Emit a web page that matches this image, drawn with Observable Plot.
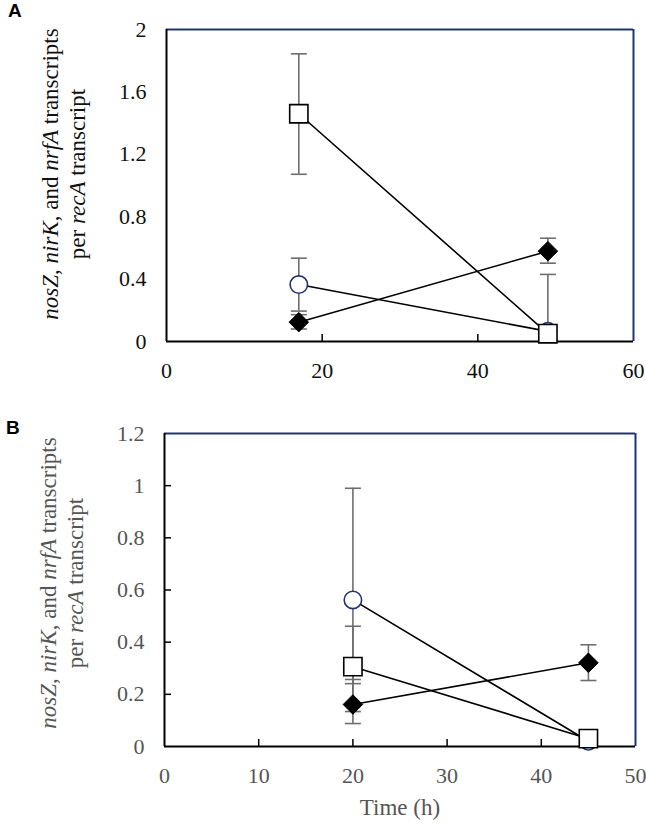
<!DOCTYPE html>
<html><head><meta charset="utf-8">
<script src="https://cdn.jsdelivr.net/npm/d3@7"></script>
<script src="https://cdn.jsdelivr.net/npm/@observablehq/plot@0.6"></script>
<style>
body{margin:0;background:#fff;}
#wrap{position:relative;width:646px;height:824px;font-family:"Liberation Serif","Times New Roman",serif;overflow:hidden;}
.panel{position:absolute;left:0;}
.ytitle{position:absolute;width:340px;text-align:center;font-size:23px;line-height:27px;transform:rotate(-90deg);white-space:nowrap;}
.tag{position:absolute;font-family:"Liberation Sans",Arial,sans-serif;font-weight:bold;font-size:19px;}
.xtitle{position:absolute;font-size:23px;white-space:nowrap;transform:translateX(-50%);}
</style></head>
<body>
<div id="wrap">
  <div class="tag" style="left:8px;top:0px;">A</div>
  <div class="tag" style="left:6px;top:417px;">B</div>
  <div class="ytitle" style="left:-106px;top:147px;color:#111;"><i>nosZ</i>, <i>nirK</i>, and <i>nrfA</i> transcripts<br>per <i>recA</i> transcript</div>
  <div class="ytitle" style="left:-108px;top:556px;color:#555;"><i>nosZ</i>, <i>nirK</i>, and <i>nrfA</i> transcripts<br>per <i>recA</i> transcript</div>
  <div class="xtitle" style="left:400px;top:795px;color:#555;">Time (h)</div>
  <div id="pA" class="panel" style="top:0px;"></div>
  <div id="pB" class="panel" style="top:380px;"></div>
</div>
<script>
// ---------- Panel A data ----------
const timeA = [17, 49];
const circleA = [0.365, 0.065];
const circleA_lo = [0.195, 0.065];
const circleA_hi = [0.534, 0.43];
const squareA = [1.46, 0.05];
const squareA_lo = [1.072, 0.05];
const squareA_hi = [1.844, 0.05];
const diamondA = [0.124, 0.579];
const diamondA_lo = [0.08, 0.502];
const diamondA_hi = [0.172, 0.662];
const xTicksA = [0, 20, 40, 60];
const xTickMarksA = [20, 40];
const yTicksA = [0, 0.4, 0.8, 1.2, 1.6, 2];

// ---------- Panel B data ----------
const timeB = [20, 45];
const circleB = [0.562, 0.02];
const circleB_lo = [0.134, 0.02];
const circleB_hi = [0.99, 0.02];
const squareB = [0.306, 0.03];
const squareB_lo = [0.241, 0.03];
const squareB_hi = [0.461, 0.03];
const diamondB = [0.161, 0.321];
const diamondB_lo = [0.088, 0.253];
const diamondB_hi = [0.257, 0.39];
const xTicksB = [0, 10, 20, 30, 40, 50];
const xTickMarksB = [10, 20, 30, 40];
const yTicksB = [0, 0.2, 0.4, 0.6, 0.8, 1, 1.2];

function rows(time, series) {
  const out = [];
  for (const [s, m, lo, hi] of series) {
    time.forEach((t, i) => out.push({t, v: m[i], lo: lo[i], hi: hi[i], s}));
  }
  return out;
}
const dataA = rows(timeA, [["circle", circleA, circleA_lo, circleA_hi], ["diamond", diamondA, diamondA_lo, diamondA_hi], ["square", squareA, squareA_lo, squareA_hi]]);
const dataB = rows(timeB, [["circle", circleB, circleB_lo, circleB_hi], ["diamond", diamondB, diamondB_lo, diamondB_hi], ["square", squareB, squareB_lo, squareB_hi]]);

const capSymbol = {draw(ctx) { ctx.moveTo(-8, 0); ctx.lineTo(8, 0); }};
const navy = "#1f3470";
const serif = "Liberation Serif";

function panel(o) {
  const innerH = o.height - o.mt - o.mb;
  const innerW = 646 - o.ml - o.mr;
  const d = o.data;
  const marks = [
    Plot.ruleY([o.ydom[1]], {stroke: navy, strokeWidth: 2}),
    Plot.ruleX([o.xdom[1]], {stroke: navy, strokeWidth: 2}),
    Plot.ruleX([o.xdom[0]], {stroke: "#000", strokeWidth: 2}),
    Plot.ruleY([o.ydom[0]], {stroke: "#000", strokeWidth: 2}),
    Plot.tickX(o.xTickMarks, {x: d => d, insetTop: innerH - 7, stroke: "#000", strokeWidth: 1.5}),
    o.yTickMarks ? Plot.tickY(o.yTickMarks, {y: d => d, insetRight: innerW - 7, stroke: "#000", strokeWidth: 1.5}) : null,
    Plot.axisX({ticks: o.xTicks, tickSize: 0, tickPadding: 21, tickFormat: d => String(d), fontSize: 22, fontFamily: serif, fill: o.textColor, label: null}),
    Plot.axisY({ticks: o.yTicks, tickSize: 0, tickPadding: 20, tickFormat: d => String(d), fontSize: 22, fontFamily: serif, fill: o.textColor, label: null}),
    Plot.ruleX(d, {x: "t", y1: "lo", y2: "hi", stroke: "#6e6e6e", strokeWidth: 1.6}),
    Plot.dot(d.filter(r => r.hi > r.v), {x: "t", y: "hi", symbol: capSymbol, fill: "none", stroke: "#6e6e6e", strokeWidth: 1.6}),
    Plot.dot(d.filter(r => r.lo < r.v), {x: "t", y: "lo", symbol: capSymbol, fill: "none", stroke: "#6e6e6e", strokeWidth: 1.6}),
    Plot.line(d, {x: "t", y: "v", z: "s", stroke: "#000", strokeWidth: 1.6}),
    Plot.dot(d.filter(r => r.s === "circle"), {x: "t", y: "v", symbol: "circle", r: 8.7, fill: "#fff", stroke: navy, strokeWidth: 1.6}),
    Plot.dot(d.filter(r => r.s === "diamond"), {x: "t", y: "v", symbol: "diamond2", r: 8.8, fill: "#000", stroke: "#000", strokeWidth: 1}),
    Plot.dot(d.filter(r => r.s === "square"), {x: "t", y: "v", symbol: "square", r: 10.3, fill: "#fff", stroke: "#000", strokeWidth: 1.6})
  ];
  const svg = Plot.plot({
    width: 646, height: o.height,
    marginTop: o.mt, marginBottom: o.mb, marginLeft: o.ml, marginRight: o.mr,
    style: {fontFamily: serif, fontSize: "22px", background: "transparent", overflow: "visible"},
    x: {domain: o.xdom},
    y: {domain: o.ydom},
    marks
  });
  svg.setAttribute("font-family", serif);
  d3.select(svg).selectAll("g, text").attr("font-family", serif).style("font-family", serif);
  d3.select(svg).selectAll("text").style("font-size", "22px");
  return svg;
}

document.getElementById("pA").append(panel({
  data: dataA, height: 380, mt: 29, mb: 39, ml: 166, mr: 13,
  xdom: [0, 60], ydom: [0, 2], xTicks: xTicksA, xTickMarks: xTickMarksA, yTicks: yTicksA, yTickMarks: null,
  textColor: "#111"
}));
document.getElementById("pB").append(panel({
  data: dataB, height: 444, mt: 53, mb: 78, ml: 164, mr: 11,
  xdom: [0, 50], ydom: [0, 1.2], xTicks: xTicksB, xTickMarks: xTickMarksB, yTicks: yTicksB, yTickMarks: yTicksB.slice(1, -1),
  textColor: "#555"
}));
</script>
</body></html>
